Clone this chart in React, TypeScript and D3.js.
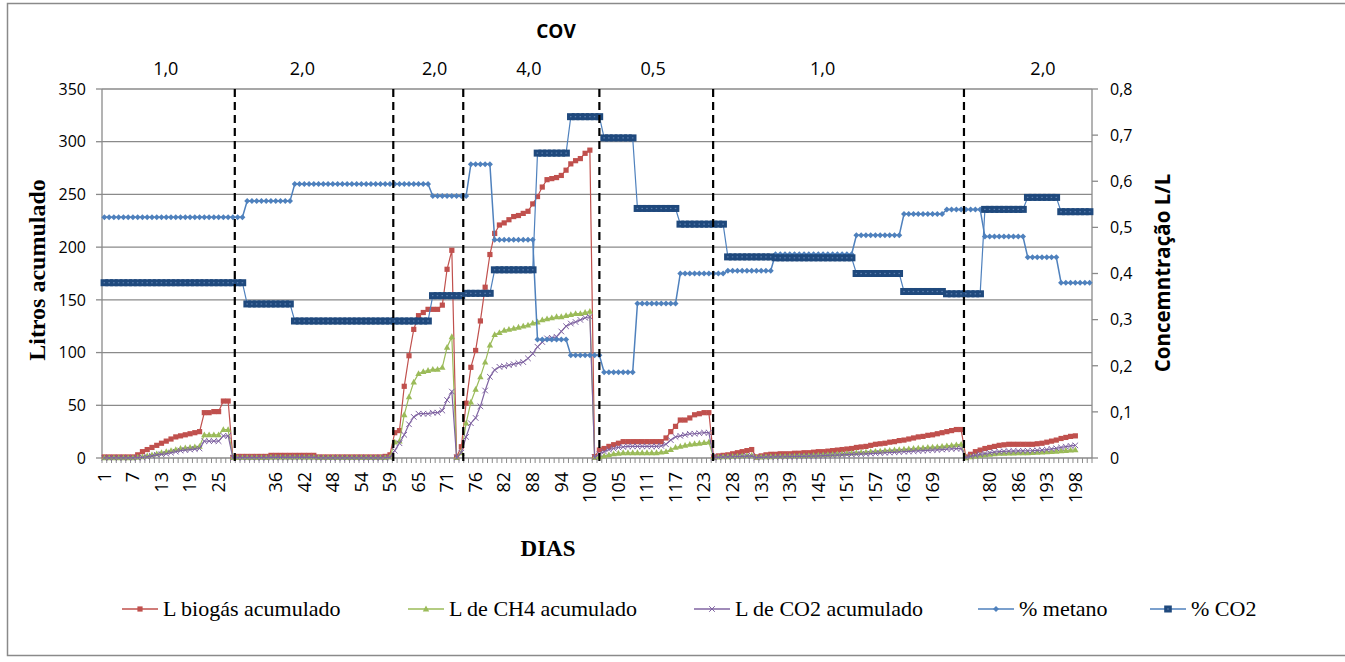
import React from "react";
import * as d3 from "d3";

const W = 1345;
const H = 662;

// ---------- categories (days) ----------
const N_CATEGORIES = 208;
const TICK_LABEL_STEP = 6;
const DAY_TICK_LABELS = [
  "1", "7", "13", "19", "25", "", "36", "42", "48", "54", "59", "65", "71", "76", "82", "88", "94",
  "100", "105", "111", "117", "123", "128", "133", "139", "145", "151", "157", "163", "169", "",
  "180", "186", "193", "198",
];

// ---------- COV periods ----------
const COV_VALUES = ["1,0", "2,0", "2,0", "4,0", "0,5", "1,0", "2,0"];
const COV_CENTERS = [12.9, 41.6, 69.4, 89.2, 115.3, 150.9, 197.2]; // in category units
const COV_TITLE_POS = 94.9;
const PERIOD_BREAKS = [27.4, 60.7, 75.4, 104.0, 127.9, 180.6]; // in category units

// ---------- axes ----------
const LEFT_TICKS = [0, 50, 100, 150, 200, 250, 300, 350];
const RIGHT_TICKS = [0, 0.1, 0.2, 0.3, 0.4, 0.5, 0.6, 0.7, 0.8];

// ---------- series (one value per category, null = no value) ----------
const BIOGAS: (number | null)[] = [
  1, 1, 1, 1, 1, 1, 1, 3, 6, 8,
  10, 12, 14, 16, 18, 20, 21, 22, 23, 24,
  25, 43, 43, 44, 44, 54, 54, 0.5, 1.5, 1.5,
  1.5, 1.5, 1.5, 1.5, 1.5, 2.5, 2.5, 2.5, 2.5, 2.5,
  2.5, 2.5, 2.5, 2.5, 2.5, 1, 1, 1, 1, 1,
  1, 1, 1, 1, 1, 1, 1, 1, 1, 1.5,
  3, 24, 26, 68, 97, 122, 135, 138, 141, 141,
  141, 145, 179, 197, 1, 10.7, 52, 86, 102, 130,
  162, 193, 213, 221, 223, 226, 229, 230, 232, 234,
  241, 248, 257, 264, 265, 266, 268, 273, 279, 282,
  284, 289, 292, 1.3, 7.6, 9, 11, 12.6, 14, 15.5,
  15.5, 15.5, 15.5, 15.5, 15.5, 15.5, 15.5, 15.5, 19, 25,
  30, 36, 36, 38, 41, 42, 43, 43, 1, 2,
  2.5, 3, 4, 5, 6, 7, 8, 1, 2, 3,
  3.5, 3.5, 4, 4, 4, 4.5, 4.5, 5, 5, 5.5,
  6, 6, 6.5, 7, 7.5, 8, 8.5, 9, 10, 10.5,
  11, 12, 13, 13.5, 14, 15, 15.5, 16.5, 17, 18,
  19, 20, 20.5, 21.5, 22, 23, 24, 25, 26, 27,
  27, 1, 3.5, 6, 7.5, 9, 10, 11, 12, 12.5,
  13, 13, 13, 13, 13, 13, 13.5, 14, 15, 16,
  17, 18.5, 19.5, 20.5, 21, null, null, null,
];

const CH4_L: (number | null)[] = [
  0.2, 0.2, 0.2, 0.2, 0.2, 0.2, 0.2, 0.5, 1, 2,
  3, 4, 5, 6, 7, 8, 9, 9.5, 10, 10.5,
  11, 22, 22, 22, 22, 27, 27, 0.3, 0.4, 0.4,
  0.4, 0.4, 0.4, 0.4, 0.4, 0.5, 0.5, 0.5, 0.5, 0.5,
  0.5, 0.5, 0.5, 0.5, 0.5, 0.3, 0.3, 0.3, 0.3, 0.3,
  0.3, 0.3, 0.3, 0.3, 0.3, 0.3, 0.3, 0.3, 0.3, 0.4,
  0.8, 15, 16, 41, 58, 72, 80, 82, 83, 84,
  84, 86, 105, 115, 0.3, 5, 33, 53, 65, 77,
  91, 107, 117, 119, 121, 122, 123, 124, 125, 126,
  128, 129, 131, 132, 133, 134, 134, 135, 136, 137,
  137, 138, 139, 0.3, 1, 2, 3, 4, 4.5, 5,
  5, 5, 5, 5, 5, 5, 5, 5.5, 6, 8,
  10, 11, 12, 13, 13.5, 14, 14.5, 15, 0.3, 0.8,
  1, 1.2, 1.5, 1.8, 2, 2.2, 2.5, 0.5, 0.8, 1,
  1.2, 1.3, 1.5, 1.5, 1.7, 1.8, 2, 2.1, 2.3, 2.5,
  2.8, 3, 3.2, 3.5, 3.8, 4, 4.3, 4.6, 5, 5.3,
  5.6, 6, 6.3, 6.6, 7, 7.3, 7.6, 8, 8.3, 8.6,
  9, 9.3, 9.6, 10, 10.3, 10.6, 11, 11.5, 12, 12.5,
  13, 0.2, 1, 1.8, 2.5, 3, 3.5, 4, 4.3, 4.5,
  4.6, 4.7, 4.8, 4.9, 5, 5.1, 5.3, 5.5, 5.8, 6.1,
  6.4, 6.8, 7.1, 7.4, 7.7, null, null, null,
];

const CO2_L: (number | null)[] = [
  0.1, 0.1, 0.1, 0.1, 0.1, 0.1, 0.1, 0.3, 0.5, 1,
  2, 3, 3.5, 4, 5, 6, 7, 7.5, 8, 8.5,
  9, 16, 16, 16, 16, 21, 21, 0.2, 0.3, 0.3,
  0.3, 0.3, 0.3, 0.3, 0.3, 0.5, 0.5, 0.5, 0.5, 0.5,
  0.5, 0.5, 0.5, 0.5, 0.5, 0.2, 0.2, 0.2, 0.2, 0.2,
  0.2, 0.2, 0.2, 0.2, 0.2, 0.2, 0.2, 0.2, 0.2, 0.3,
  0.5, 7, 14, 22, 32, 39, 42, 42, 42, 43,
  43, 45, 55, 63, 0.2, 5, 20, 33, 38, 49,
  64, 77, 83.5, 86.5, 87, 88, 89, 90, 91, 94.5,
  99, 105.5, 110, 113.5, 114, 115, 120, 125, 127.5, 129,
  131, 133, 134, 0.5, 4, 6, 8, 9, 10, 10.5,
  11, 11, 11, 11, 11, 11, 11, 11.5, 13, 17,
  20, 21, 22, 23, 23, 23.5, 24, 24, 0.3, 0.6,
  0.8, 1, 1.2, 1.4, 1.6, 1.8, 2, 0.4, 0.6, 0.8,
  0.9, 1, 1.1, 1.2, 1.3, 1.4, 1.5, 1.6, 1.7, 1.8,
  2, 2.2, 2.4, 2.6, 2.8, 3, 3.2, 3.4, 3.6, 3.8,
  4, 4.2, 4.4, 4.7, 5, 5.2, 5.4, 5.7, 6, 6.2,
  6.5, 6.7, 7, 7.2, 7.5, 7.7, 8, 8.3, 8.6, 8.8,
  9, 0.3, 1.5, 2.5, 3.5, 4.2, 5, 5.5, 6, 6.3,
  6.5, 6.6, 6.7, 6.8, 6.9, 7, 7.2, 7.5, 8, 8.6,
  9.2, 10, 10.8, 11.5, 12, null, null, null,
];

const METANO_PCT: (number | null)[] = [
  0.522, 0.522, 0.522, 0.522, 0.522, 0.522, 0.522, 0.522, 0.522, 0.522,
  0.522, 0.522, 0.522, 0.522, 0.522, 0.522, 0.522, 0.522, 0.522, 0.522,
  0.522, 0.522, 0.522, 0.522, 0.522, 0.522, 0.522, 0.522, 0.522, 0.522,
  0.557, 0.557, 0.557, 0.557, 0.557, 0.557, 0.557, 0.557, 0.557, 0.557,
  0.594, 0.594, 0.594, 0.594, 0.594, 0.594, 0.594, 0.594, 0.594, 0.594,
  0.594, 0.594, 0.594, 0.594, 0.594, 0.594, 0.594, 0.594, 0.594, 0.594,
  0.594, 0.594, 0.594, 0.594, 0.594, 0.594, 0.594, 0.594, 0.594,
  0.568, 0.568, 0.568, 0.568, 0.568, 0.568, 0.568, 0.568,
  0.637, 0.637, 0.637, 0.637, 0.637,
  0.473, 0.473, 0.473, 0.473, 0.473, 0.473, 0.473, 0.473, 0.473,
  0.257, 0.257, 0.257, 0.257, 0.257, 0.257, 0.257,
  0.223, 0.223, 0.223, 0.223, 0.223, 0.223, 0.223,
  0.186, 0.186, 0.186, 0.186, 0.186, 0.186, 0.186,
  0.335, 0.335, 0.335, 0.335, 0.335, 0.335, 0.335, 0.335, 0.335,
  0.4, 0.4, 0.4, 0.4, 0.4, 0.4, 0.4, 0.4, 0.4, 0.4,
  0.406, 0.406, 0.406, 0.406, 0.406, 0.406, 0.406, 0.406, 0.406, 0.406,
  0.442, 0.442, 0.442, 0.442, 0.442, 0.442, 0.442, 0.442, 0.442, 0.442,
  0.442, 0.442, 0.442, 0.442, 0.442, 0.442, 0.442,
  0.483, 0.483, 0.483, 0.483, 0.483, 0.483, 0.483, 0.483, 0.483, 0.483,
  0.529, 0.529, 0.529, 0.529, 0.529, 0.529, 0.529, 0.529, 0.529,
  0.539, 0.539, 0.539, 0.539, 0.539, 0.539, 0.539, 0.539,
  0.48, 0.48, 0.48, 0.48, 0.48, 0.48, 0.48, 0.48, 0.48,
  0.435, 0.435, 0.435, 0.435, 0.435, 0.435, 0.435,
  0.38, 0.38, 0.38, 0.38, 0.38, 0.38, 0.38,
];

const CO2_PCT: (number | null)[] = [
  0.38, 0.38, 0.38, 0.38, 0.38, 0.38, 0.38, 0.38, 0.38, 0.38,
  0.38, 0.38, 0.38, 0.38, 0.38, 0.38, 0.38, 0.38, 0.38, 0.38,
  0.38, 0.38, 0.38, 0.38, 0.38, 0.38, 0.38, 0.38, 0.38, 0.38,
  0.334, 0.334, 0.334, 0.334, 0.334, 0.334, 0.334, 0.334, 0.334, 0.334,
  0.297, 0.297, 0.297, 0.297, 0.297, 0.297, 0.297, 0.297, 0.297, 0.297,
  0.297, 0.297, 0.297, 0.297, 0.297, 0.297, 0.297, 0.297, 0.297, 0.297,
  0.297, 0.297, 0.297, 0.297, 0.297, 0.297, 0.297, 0.297, 0.297,
  0.352, 0.352, 0.352, 0.352, 0.352, 0.352, 0.352,
  0.357, 0.357, 0.357, 0.357, 0.357, 0.357,
  0.408, 0.408, 0.408, 0.408, 0.408, 0.408, 0.408, 0.408, 0.408,
  0.661, 0.661, 0.661, 0.661, 0.661, 0.661, 0.661,
  0.74, 0.74, 0.74, 0.74, 0.74, 0.74, 0.74,
  0.694, 0.694, 0.694, 0.694, 0.694, 0.694, 0.694,
  0.541, 0.541, 0.541, 0.541, 0.541, 0.541, 0.541, 0.541, 0.541,
  0.507, 0.507, 0.507, 0.507, 0.507, 0.507, 0.507, 0.507, 0.507, 0.507,
  0.436, 0.436, 0.436, 0.436, 0.436, 0.436, 0.436, 0.436, 0.436, 0.436,
  0.434, 0.434, 0.434, 0.434, 0.434, 0.434, 0.434, 0.434, 0.434, 0.434,
  0.434, 0.434, 0.434, 0.434, 0.434, 0.434, 0.434,
  0.4, 0.4, 0.4, 0.4, 0.4, 0.4, 0.4, 0.4, 0.4, 0.4,
  0.361, 0.361, 0.361, 0.361, 0.361, 0.361, 0.361, 0.361, 0.361,
  0.356, 0.356, 0.356, 0.356, 0.356, 0.356, 0.356, 0.356,
  0.539, 0.539, 0.539, 0.539, 0.539, 0.539, 0.539, 0.539, 0.539,
  0.565, 0.565, 0.565, 0.565, 0.565, 0.565, 0.565,
  0.534, 0.534, 0.534, 0.534, 0.534, 0.534, 0.534,
];

const LEGEND_LABELS = [
  "L biogás acumulado",
  "L de CH4 acumulado",
  "L de CO2 acumulado",
  "% metano",
  "% CO2",
];

// ---------- styling ----------
const PLOT = { left: 102, right: 1092, top: 89, bottom: 458 };
const SANS = "'Open Sans', 'Liberation Sans', sans-serif";
const SERIF = "'Liberation Serif', 'Times New Roman', serif";
const GRID = "#8a8a8a";

type Shape = "square" | "triangle" | "x" | "diamond" | "bigsquare";
interface SeriesCfg {
  data: (number | null)[];
  axis: "left" | "right";
  line: string;
  marker: string;
  shape: Shape;
  lineWidth: number;
}

const SERIES: SeriesCfg[] = [
  { data: BIOGAS, axis: "left", line: "#C0504D", marker: "#C0504D", shape: "square", lineWidth: 1.2 },
  { data: CH4_L, axis: "left", line: "#9BBB59", marker: "#9BBB59", shape: "triangle", lineWidth: 1.2 },
  { data: CO2_L, axis: "left", line: "#8064A2", marker: "#8064A2", shape: "x", lineWidth: 1.2 },
  { data: METANO_PCT, axis: "right", line: "#4F81BD", marker: "#4F81BD", shape: "diamond", lineWidth: 1.5 },
  { data: CO2_PCT, axis: "right", line: "#4F81BD", marker: "#1F497D", shape: "bigsquare", lineWidth: 1.2 },
];

function Marker({ shape, x, y, color }: { shape: Shape; x: number; y: number; color: string }) {
  switch (shape) {
    case "square":
      return <rect x={x - 2.6} y={y - 2.6} width={5.2} height={5.2} fill={color} />;
    case "triangle":
      return <path d={`M${x},${y - 3.4}L${x + 3.2},${y + 2.4}L${x - 3.2},${y + 2.4}Z`} fill={color} />;
    case "x":
      return (
        <path
          d={`M${x - 2.8},${y - 2.8}L${x + 2.8},${y + 2.8}M${x - 2.8},${y + 2.8}L${x + 2.8},${y - 2.8}`}
          stroke={color}
          strokeWidth={1}
          fill="none"
        />
      );
    case "diamond":
      return <path d={`M${x},${y - 3}L${x + 3},${y}L${x},${y + 3}L${x - 3},${y}Z`} fill={color} />;
    case "bigsquare":
      return (
        <g>
          <rect x={x - 3.8} y={y - 3.5} width={7.6} height={7} fill={color} />
          <rect x={x - 0.8} y={y - 0.6} width={1.6} height={1.2} fill="#5d7fae" />
        </g>
      );
  }
}

export default function App() {
  const x = d3.scaleLinear().domain([-0.5, N_CATEGORIES - 0.5]).range([PLOT.left, PLOT.right]);
  const yL = d3.scaleLinear().domain([0, 350]).range([PLOT.bottom, PLOT.top]);
  const yR = d3.scaleLinear().domain([0, 0.8]).range([PLOT.bottom, PLOT.top]);

  const lineFor = (s: SeriesCfg) => {
    const ys = s.axis === "left" ? yL : yR;
    return d3
      .line<number | null>()
      .defined((d) => d != null)
      .x((_, i) => x(i))
      .y((d) => ys(d as number))(s.data) || "";
  };

  const catBoundaries = d3.range(N_CATEGORIES + 1).map((i) => x(i - 0.5));

  const legendX = [122, 408, 694, 978, 1150];
  const legendY = 609;

  return (
    <svg
      width={W}
      height={H}
      style={{ position: "absolute", left: 0, top: 0, background: "#fff" }}
      xmlns="http://www.w3.org/2000/svg"
    >
      <rect x={0} y={0} width={W} height={H} fill="#fff" />
      {/* outer chart border */}
      <rect x={7.5} y={3.5} width={W + 10} height={652} fill="none" stroke="#8a8a8a" strokeWidth={1.5} />

      {/* gridlines */}
      {LEFT_TICKS.filter((t) => t > 0).map((t) => (
        <line key={"g" + t} x1={PLOT.left} x2={PLOT.right} y1={yL(t)} y2={yL(t)} stroke={GRID} strokeWidth={1.3} />
      ))}

      {/* axes */}
      <line x1={PLOT.left} x2={PLOT.left} y1={PLOT.top} y2={PLOT.bottom} stroke={GRID} strokeWidth={1.3} />
      <line x1={PLOT.right} x2={PLOT.right} y1={PLOT.top} y2={PLOT.bottom} stroke={GRID} strokeWidth={1.3} />
      <line x1={PLOT.left} x2={PLOT.right} y1={PLOT.bottom} y2={PLOT.bottom} stroke={GRID} strokeWidth={1.3} />

      {/* left ticks and labels */}
      {LEFT_TICKS.map((t) => (
        <g key={"l" + t}>
          <line x1={PLOT.left - 6} x2={PLOT.left} y1={yL(t)} y2={yL(t)} stroke={GRID} strokeWidth={1.3} />
          <text x={86} y={yL(t)} dy="0.36em" textAnchor="end" fontFamily={SANS} fontSize={16} fill="#000">
            {t}
          </text>
        </g>
      ))}

      {/* right ticks and labels */}
      {RIGHT_TICKS.map((t) => (
        <g key={"r" + t}>
          <line x1={PLOT.right} x2={PLOT.right + 6} y1={yR(t)} y2={yR(t)} stroke={GRID} strokeWidth={1.3} />
          <text x={1110} y={yR(t)} dy="0.36em" textAnchor="start" fontFamily={SANS} fontSize={16} fill="#000">
            {t === 0 ? "0" : d3.format(".1f")(t).replace(".", ",")}
          </text>
        </g>
      ))}

      {/* x category ticks */}
      {catBoundaries.map((bx, i) => (
        <line key={"xt" + i} x1={bx} x2={bx} y1={PLOT.bottom} y2={PLOT.bottom + 5} stroke={GRID} strokeWidth={1} />
      ))}

      {/* x labels */}
      {DAY_TICK_LABELS.map((lab, k) =>
        lab ? (
          <text
            key={"xl" + k}
            transform={`translate(${x(k * TICK_LABEL_STEP) + 6.3},${472}) rotate(-90)`}
            textAnchor="end"
            fontFamily={SANS}
            fontSize={18}
            fill="#000"
          >
            {lab}
          </text>
        ) : null
      )}

      {/* series */}
      {SERIES.map((s, si) => {
        const ys = s.axis === "left" ? yL : yR;
        return (
          <g key={"s" + si}>
            <path d={lineFor(s)} fill="none" stroke={s.line} strokeWidth={s.lineWidth} />
            {s.data.map((d, i) =>
              d == null ? null : <Marker key={i} shape={s.shape} x={x(i)} y={ys(d)} color={s.marker} />
            )}
          </g>
        );
      })}

      {/* period separators */}
      {PERIOD_BREAKS.map((b, i) => (
        <line
          key={"pb" + i}
          x1={x(b)}
          x2={x(b)}
          y1={PLOT.top}
          y2={PLOT.bottom + 3}
          stroke="#000"
          strokeWidth={2.2}
          strokeDasharray="8,5"
        />
      ))}

      {/* COV labels */}
      <text x={x(COV_TITLE_POS)} y={38} textAnchor="middle" fontFamily={SANS} fontWeight="bold" fontSize={19}>
        COV
      </text>
      {COV_VALUES.map((v, i) => (
        <text key={"cov" + i} x={x(COV_CENTERS[i])} y={75} textAnchor="middle" fontFamily={SANS} fontSize={18}>
          {v}
        </text>
      ))}

      {/* axis titles */}
      <text
        transform={`translate(45,270) rotate(-90)`}
        textAnchor="middle"
        fontFamily={SERIF}
        fontWeight="bold"
        fontSize={24}
      >
        Litros acumulado
      </text>
      <text
        transform={`translate(1170,273) rotate(-90)`}
        textAnchor="middle"
        fontFamily={SANS}
        fontWeight="bold"
        fontSize={20.5}
      >
        Concemntração L/L
      </text>
      <text x={548} y={556} textAnchor="middle" fontFamily={SERIF} fontWeight="bold" fontSize={23}>
        DIAS
      </text>

      {/* legend */}
      {SERIES.map((s, i) => (
        <g key={"lg" + i}>
          <line x1={legendX[i]} x2={legendX[i] + 36} y1={legendY} y2={legendY} stroke={s.line} strokeWidth={1.5} />
          <Marker shape={s.shape} x={legendX[i] + 18} y={legendY} color={s.marker} />
          <text x={legendX[i] + 41} y={legendY} dy="0.34em" fontFamily={SERIF} fontSize={22} fill="#000">
            {LEGEND_LABELS[i]}
          </text>
        </g>
      ))}
    </svg>
  );
}
